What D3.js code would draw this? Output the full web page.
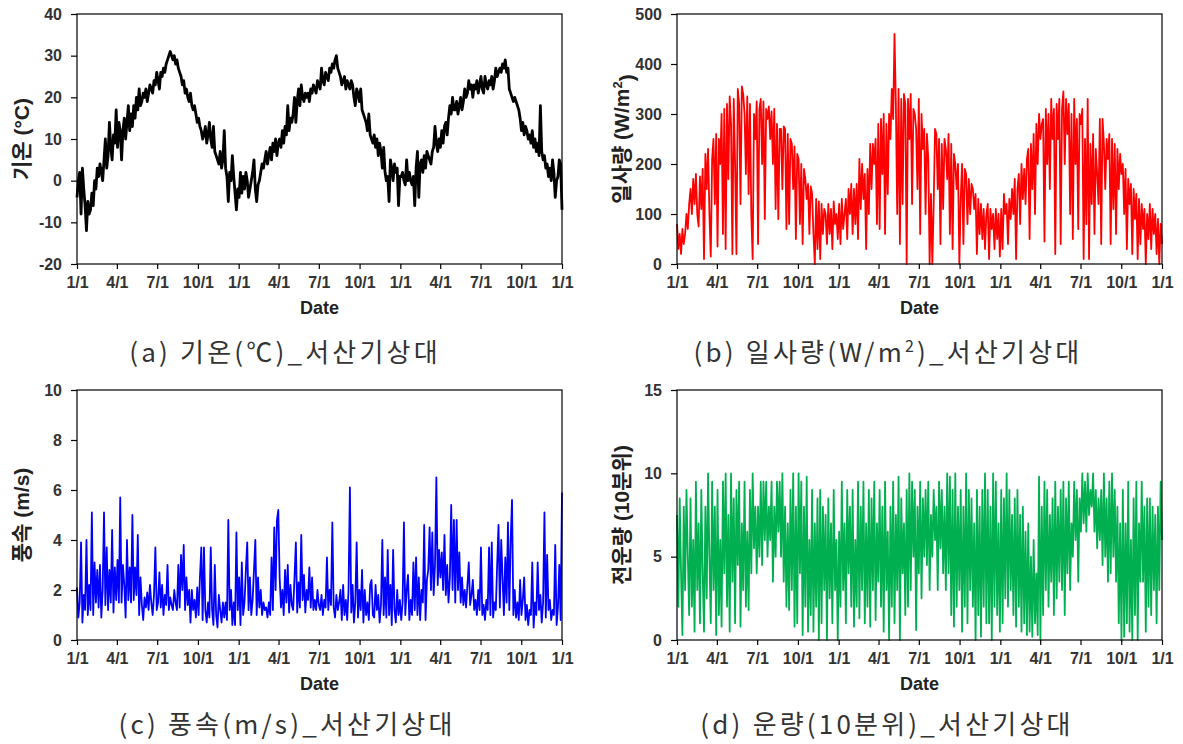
<!DOCTYPE html>
<html><head><meta charset="utf-8">
<script src="https://cdn.jsdelivr.net/npm/d3@7/dist/d3.min.js"></script>
<style>body{margin:0;background:#fff}svg{display:block}</style>
</head><body>
<svg id="chart" width="1183" height="744"></svg>
<script>
// ---- data (10 readings per month, 3 years, Jan Y1 .. Dec Y3) ----
const startDate = "2017-01-01";
const endDate = "2020-01-01";

const temperature = [
 -4,0,2,-8,3,-2,-6,-12,-5,-8,  -7,-3,-6,0,-2,3,1,4,2,0,  5,10,3,6,14,8,5,11,9,17,
 8,14,12,5,12,15,10,14,18,12,  16,13,18,15,20,17,22,18,19,21,  20,22,19,21,23,22,21,24,23,26,
 24,22,26,25,27,26,28,29,30,31,  30,29,30,28,29,27,26,25,23,24,  21,22,20,19,21,18,17,18,16,14,
 15,13,12,10,11,13,9,11,14,10,  8,13,7,6,5,4,7,3,5,12,  3,1,-5,2,0,6,1,-3,-7,-2,
 -4,2,-3,1,-2,2,0,-4,-2,0,  2,5,-2,-5,-1,0,2,4,3,5,  7,4,6,8,5,9,7,10,6,9,
 10,8,12,9,13,11,18,12,15,14,  16,20,14,19,22,18,23,20,19,21,  20,21,19,22,21,23,22,21,24,23,
 22,27,24,23,26,25,24,27,26,28,  27,29,30,27,26,25,23,24,25,22,  24,23,22,24,23,20,18,22,21,19,
 22,17,16,15,14,12,16,11,10,9,  11,8,10,6,9,7,3,8,2,0,  1,-5,5,3,0,4,2,3,-6,1,
 1,2,0,-1,5,0,2,0,-1,1,  -6,3,7,-4,4,5,2,6,3,7,  6,5,4,7,8,13,9,7,10,8,
 12,9,13,14,11,15,18,16,20,17,  17,19,16,18,20,17,19,22,20,21,  24,22,23,20,23,22,24,21,23,25,
 22,21,25,23,22,24,23,25,22,24,  27,25,26,27,26,28,27,29,26,27,  22,21,20,19,20,19,18,17,15,12,
 14,11,13,12,10,11,9,12,8,10,  7,9,6,18,7,5,6,3,4,1,  3,0,5,2,-4,0,1,5,4,-7
];

const radiation = [
 80,30,60,20,70,40,60,100,70,120,  150,100,170,120,180,100,75,175,110,190,  10,220,150,230,100,15,210,250,120,260,
 35,250,200,300,60,310,30,320,170,335,  280,20,330,200,20,350,320,120,355,340,  300,180,335,140,320,100,10,300,250,325,
 40,310,330,200,325,90,310,290,315,250,  305,200,310,110,280,90,270,270,150,275,  270,70,260,80,250,240,150,235,50,220,
 210,80,200,40,190,170,130,160,60,155,  140,60,0,130,30,125,10,120,60,110,  100,40,120,60,110,30,125,80,100,50,
 120,40,130,70,100,130,50,150,100,160,  60,150,80,160,50,210,110,200,130,180,  30,190,100,240,150,240,200,250,80,280,
 70,290,180,300,60,280,140,300,250,350,  290,460,320,100,350,40,330,120,340,320,  0,330,250,340,120,310,300,270,150,330,
 60,300,230,270,100,260,210,0,140,0,  120,270,260,150,250,40,240,110,250,230,  170,260,60,240,30,220,200,150,200,0,
 130,200,40,190,180,80,170,100,160,150,  110,140,20,130,60,120,50,110,30,100,  120,10,110,70,100,30,110,50,100,15,
 110,30,140,100,120,40,130,90,150,100,  170,10,150,180,80,200,130,190,120,210,  230,50,240,150,260,100,280,200,300,250,
 280,290,45,310,200,300,150,330,250,310,  20,320,250,330,40,310,345,200,330,260,  320,100,300,50,330,200,290,70,300,280,
 310,10,250,80,330,10,240,120,260,60,  230,180,120,290,40,290,240,150,250,210,  260,40,250,110,240,60,230,150,220,180,
 200,100,190,30,170,120,160,20,150,90,  140,10,130,40,120,70,110,0,100,50,  120,30,110,60,100,20,90,0,80,40
];

const windSpeed = [
 2.1,0.9,1.5,3.9,0.7,1.8,1.2,4.0,1.0,2.2,  1.2,5.1,1.0,3.1,1.5,2.8,1.3,3.0,0.9,2.0,  5.1,1.4,3.7,1.2,2.8,1.5,4.4,1.1,2.9,1.6,
 3.2,1.5,5.7,1.5,3.0,2.2,0.9,4.0,1.6,2.9,  1.5,5.0,1.6,2.9,1.8,4.2,1.0,2.5,1.4,0.8,  1.7,1.3,1.9,1.2,2.2,1.5,1.0,1.8,3.7,1.2,
 1.5,2.7,1.3,2.2,1.0,1.8,1.4,3.0,1.2,1.7,  1.4,1.2,2.0,1.5,1.2,3.0,1.3,3.4,2.0,3.8,  1.2,2.5,1.4,2.0,0.7,2.0,1.2,1.6,0.9,2.1,
 1.0,2.5,3.7,0.8,3.7,1.2,0.7,1.5,0.9,3.7,  1.2,0.6,3.0,1.0,0.5,1.8,1.2,0.7,1.5,0.9,  1.5,0.8,4.8,1.2,2.0,0.6,1.5,0.6,4.3,1.2,
 2.5,0.6,3.1,1.0,1.5,2.8,3.9,1.2,2.5,1.0,  1.6,2.8,4.0,1.0,2.5,1.3,2.0,1.0,1.5,1.2,  1.3,0.9,1.5,1.0,3.3,1.2,4.5,2.0,4.8,5.2,
 2.5,1.3,2.0,1.0,2.8,1.5,3.0,1.1,2.2,1.4,  1.2,2.5,3.9,1.1,2.3,1.3,4.2,1.6,2.6,1.1,  2.0,1.6,2.9,1.3,2.5,1.2,1.6,1.2,2.0,1.4,
 1.2,1.8,1.0,1.6,1.3,3.3,1.2,2.0,1.4,4.7,  1.3,0.9,1.8,1.2,1.5,2.0,0.8,2.2,1.0,1.6,  0.8,2.0,6.1,1.1,2.2,0.7,1.5,3.9,0.9,2.0,
 1.2,2.8,0.7,2.0,1.0,1.5,0.8,2.2,2.4,1.0,  0.9,2.2,1.2,1.8,0.7,1.4,4.0,1.0,2.5,0.9,  3.6,1.0,2.2,0.6,3.6,1.2,0.7,2.0,1.0,1.6,
 0.8,1.5,4.7,1.0,2.0,2.6,0.8,1.6,1.0,3.1,  1.2,3.3,1.0,2.5,0.8,2.0,1.5,4.6,0.8,2.4,  2.8,4.5,2.0,4.3,1.8,3.0,6.5,2.2,3.6,2.5,
 3.5,2.0,4.2,1.8,3.0,1.5,2.5,5.4,2.0,4.8,  1.5,4.8,2.0,3.5,1.5,2.5,1.4,2.0,1.3,2.2,  3.1,1.4,1.8,2.4,1.2,1.6,1.0,2.0,1.2,3.7,
 1.0,1.4,0.8,1.6,1.2,3.7,1.0,3.9,0.9,1.5,  1.2,3.0,4.6,1.3,4.0,2.5,1.0,3.3,1.5,4.7,  1.2,4.0,5.6,1.0,2.0,0.9,1.5,0.8,2.4,1.0,
 1.6,2.5,0.8,1.4,0.6,1.2,1.0,3.1,0.5,1.5,  1.0,3.1,1.2,1.8,0.7,1.5,5.1,0.9,3.4,1.2,  1.6,0.8,1.2,1.0,3.8,0.6,1.3,3.0,0.8,5.9
];

const cloudCover = [
 7.5,2,8.5,4,0.3,8,3,9,5,1.5,  8.5,2,6,0.5,9.5,3,7,1,9,4,  0.5,8,2.5,10,5,1,9.5,3,8,0.3,
 9,1.5,6,0.8,9.5,4,10,2,7.5,0.5,  10,3.5,8.5,1,9,4.5,9.5,0.8,7,3,  9.5,2,6.5,1.8,9,4,10,5.5,8,4,
 8,5,9.5,4.5,9.5,6,9.5,5,8,6,  9.5,3.5,8,5,9.5,6.5,9.5,5,10,3.5,  8,2,7,1.8,9,3,10,0.8,8,1,
 10,4,9.5,0.3,8,2,9.8,0.5,6,1.5,  9,0.5,7,2,8.5,0,9,1,8,3,  7.5,0,8.5,2.5,7,1,9,3,6,0,
 6.5,2,9.5,3,7,1,9,4,8,2,  9,0.8,6,2,9.5,1.3,8,3,9.5,1,  7,2,9,0.8,8.5,3,9.5,1.2,7,3.5,
 9,2,8,0.5,9.5,3,6.5,0,8,2,  9.5,1,7.5,3,9.8,0,8.5,4,7,1.5,  9,2,10,3,9.5,5,9,0.6,8,4,
 9.5,2.5,8.5,5,9,4.5,9.5,3,7.5,5,  9,6,8,3,9.5,5.5,9,4,8,3,  10,4,9.8,1.5,9,0.8,10,2,8,3,
 9,0.5,8,2,10,1,9,3,8.5,2,  7,0,9,1.5,8,0.2,9,2,10,1,  9,1,8,0,10,2,9.5,1.5,7,0.5,
 9,1,8.5,2.5,10,2,9,3,7.5,1.5,  8.5,0.8,9,2,7.5,0.5,8,1,6.5,0.3,  7,0.5,5,0.2,6,1,4,0.3,9.8,0,
 8,1.5,9.5,3,9,2,7.5,3.5,8.5,1.5,  9.5,2.5,8,3.5,9,3,9.5,1.5,8.5,4,  9.5,3,7,5,9.5,6,9,3.5,8.5,6.5,
 10,7,9.5,6.5,10,7.5,9,8,10,6.5,  9,5.5,8.5,6,9,4.5,10,5,8.5,3.5,  9.5,4,10,5,9,3.5,8,1,7,0,
 9,0.2,7,1,9.5,0.5,6,0,8.5,1.5,  9.5,0,7,3.5,9.5,3.5,8,0.5,8.5,2,  8.5,1.5,8,3,7.5,1,8,3,9.5,6
];

const tempTicks = [-20, -10, 0, 10, 20, 30, 40];
const radiationTicks = [0, 100, 200, 300, 400, 500];
const windTicks = [0, 2, 4, 6, 8, 10];
const cloudTicks = [0, 5, 10, 15];
const xTickFormat = "%-m/%-d";

// ---- layout ----
const W = 485, H = 250;
const panels = [
  {values: temperature, ticks: tempTicks, color: "#000000", sw: 2.8,
   x0: 77, y0: 14, ylx: 22, ylabel: ["기온 (°C)"], capX: 285, capY: 362,
   caption: [["(a) 기온(℃)_서산기상대", false]]},
  {values: radiation, ticks: radiationTicks, color: "#ff0000", sw: 1.8,
   x0: 677, y0: 14, ylx: 622, ylabel: ["일사량 (W/m", "2", ")"], capX: 888, capY: 362,
   caption: [["(b) 일사량(W/m", false], ["2", true], [")_서산기상대", false]]},
  {values: windSpeed, ticks: windTicks, color: "#0000ff", sw: 1.8,
   x0: 77, y0: 390, ylx: 22, ylabel: ["풍속 (m/s)"], capX: 287, capY: 734,
   caption: [["(c) 풍속(m/s)_서산기상대", false]]},
  {values: cloudCover, ticks: cloudTicks, color: "#00b050", sw: 1.8,
   x0: 677, y0: 390, ylx: 622, ylabel: ["전운량 (10분위)"], capX: 887, capY: 734,
   caption: [["(d) 운량(10분위)_서산기상대", false]]}
];

const svg = d3.select("#chart");
const t0 = new Date(startDate + "T00:00:00Z"), t1 = new Date(endDate + "T00:00:00Z");
const tickFont = "'Liberation Sans', Arial, sans-serif";

panels.forEach(p => {
  const g = svg.append("g").attr("transform", `translate(${p.x0},${p.y0})`);
  const x = d3.scaleUtc().domain([t0, t1]).range([0, W]);
  const y = d3.scaleLinear().domain([p.ticks[0], p.ticks[p.ticks.length - 1]]).range([H, 0]);
  const n = p.values.length;
  const span = t1 - t0;
  const pts = p.values.map((v, i) => [new Date(+t0 + span * i / (n - 1)), v]);

  g.append("path").datum(pts)
    .attr("fill", "none").attr("stroke", p.color).attr("stroke-width", p.sw)
    .attr("stroke-linejoin", "round")
    .attr("d", d3.line().x(d => x(d[0])).y(d => y(d[1])));

  g.append("rect").attr("x", 0).attr("y", 0).attr("width", W).attr("height", H)
    .attr("fill", "none").attr("stroke", "#000").attr("stroke-width", 1.2);

  const ya = g.append("g").call(d3.axisLeft(y).tickValues(p.ticks)
      .tickFormat(d => String(d)).tickSize(6).tickPadding(9));
  const xa = g.append("g").attr("transform", `translate(0,${H})`)
    .call(d3.axisBottom(x).ticks(d3.utcMonth.every(3)).tickFormat(d3.utcFormat(xTickFormat))
      .tickSize(5).tickPadding(8));
  [ya, xa].forEach(a => {
    a.select(".domain").remove();
    a.selectAll("line").attr("stroke", "#000").attr("stroke-width", 1.2);
    a.selectAll("text").attr("font-family", tickFont).attr("font-size", 16)
      .attr("font-weight", "bold").attr("fill", "#333");
  });

  svg.append("text").attr("x", p.x0 + W / 2).attr("y", p.y0 + H + 50)
    .attr("text-anchor", "middle").attr("font-family", tickFont).attr("font-size", 18)
    .attr("font-weight", "bold").attr("fill", "#222").text("Date");

  const yl = svg.append("text")
    .attr("transform", `translate(${p.ylx},${p.y0 + H / 2}) rotate(-90)`)
    .attr("text-anchor", "middle").attr("dy", "0.35em")
    .attr("font-family", "'Liberation Sans', 'Noto Sans CJK KR', sans-serif")
    .attr("font-size", 21).attr("font-weight", "bold").attr("fill", "#222");
  p.ylabel.forEach((s, i) => {
    const ts = yl.append("tspan").text(s);
    if (p.ylabel.length === 3 && i === 1) ts.attr("font-size", 13).attr("dy", "-0.6em");
    if (p.ylabel.length === 3 && i === 2) ts.attr("dy", "0.6em");
  });

  const cap = svg.append("text").attr("x", p.capX).attr("y", p.capY)
    .attr("text-anchor", "middle").attr("letter-spacing", 3.2)
    .attr("font-family", "'Noto Sans CJK KR', sans-serif").attr("font-size", 26)
    .attr("fill", "#333");
  p.caption.forEach(([s, sup], i) => {
    const ts = cap.append("tspan").text(s);
    if (sup) ts.attr("font-size", 16).attr("dy", "-0.6em");
    else if (i > 0) ts.attr("dy", "0.37em");
  });
});
</script>
</body></html>
